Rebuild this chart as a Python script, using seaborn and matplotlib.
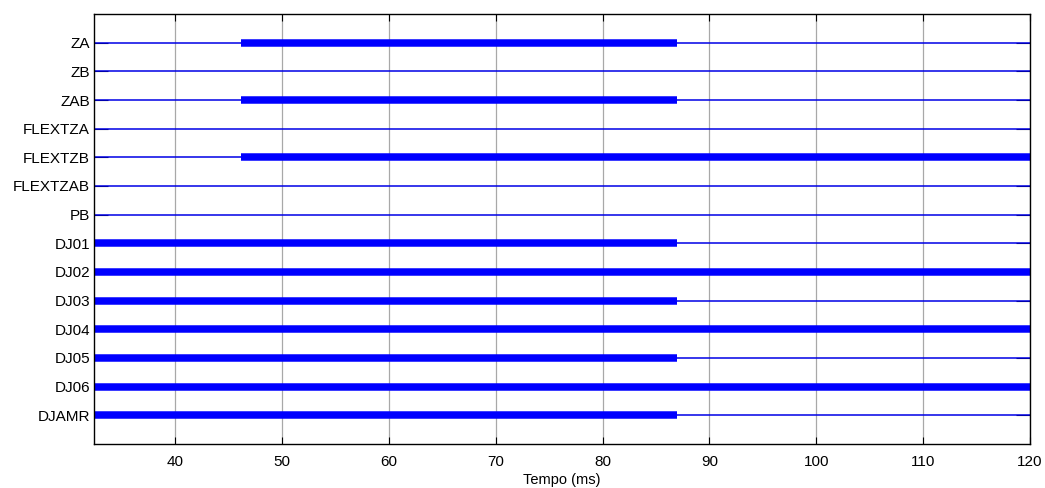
import pandas as pd
import matplotlib
matplotlib.use("Agg")
import matplotlib.pyplot as plt
import seaborn as sns

# sinais digitais (de cima para baixo)
sinais = ['ZA', 'ZB', 'ZAB', 'FLEXTZA', 'FLEXTZB', 'FLEXTZAB', 'PB',
          'DJ01', 'DJ02', 'DJ03', 'DJ04', 'DJ05', 'DJ06', 'DJAMR']
# intervalo em que o sinal esta ativo (ms); None = nunca ativo
inicio_ativo = [46.2, None, 46.2, None, 46.2, None, None,
                32.4, 32.4, 32.4, 32.4, 32.4, 32.4, 32.4]
fim_ativo = [87.0, None, 87.0, None, 120.0, None, None,
             87.0, 120.0, 87.0, 120.0, 87.0, 120.0, 87.0]
t_ini = 32.4
t_fim = 120.0
x_ticks = [40, 50, 60, 70, 80, 90, 100, 110, 120]

sns.set_style("white")
plt.rcParams['font.family'] = ['Liberation Sans', 'DejaVu Sans']

n = len(sinais)
nivel = {s: n - i for i, s in enumerate(sinais)}

# linha base (fina) de cada sinal
base = pd.DataFrame({
    'sinal': [s for s in sinais for _ in range(2)],
    't': [t for _ in sinais for t in (t_ini, t_fim)],
})
base['y'] = base['sinal'].map(nivel)

# trechos ativos (grossos)
rows = []
for s, a, b in zip(sinais, inicio_ativo, fim_ativo):
    if a is None:
        continue
    rows.append({'sinal': s, 't': a})
    rows.append({'sinal': s, 't': b})
ativo = pd.DataFrame(rows)
ativo['y'] = ativo['sinal'].map(nivel)

fig = plt.figure(figsize=(10.45, 4.88), dpi=100)
ax = fig.add_axes([0.09, 0.0902, 0.8956, 0.8811])

sns.lineplot(data=base, x='t', y='y', units='sinal', estimator=None,
             color=(0, 0, 0.9), lw=1.1, ax=ax, legend=False)
sns.lineplot(data=ativo, x='t', y='y', units='sinal', estimator=None,
             color=(0, 0, 1), lw=5.4, solid_capstyle='butt', ax=ax, legend=False)

ax.set_xlim(t_ini, t_fim)
ax.set_ylim(0, n + 1)
ax.set_xticks(x_ticks)
ax.set_xticklabels([str(v) for v in x_ticks], fontsize=11)
ax.set_yticks([nivel[s] for s in sinais])
ax.set_yticklabels(sinais, fontsize=11)
ax.set_xlabel('Tempo (ms)', fontsize=10.5, labelpad=3, color='black')
ax.set_ylabel('')

ax.set_axisbelow(True)
ax.grid(axis='x', color='#a8a8a8', lw=0.9)
ax.grid(axis='y', visible=False)
ax.tick_params(axis='x', direction='in', length=5, width=0.8, top=True,
               bottom=True, pad=8, colors='black')
ax.tick_params(axis='y', direction='in', length=10, width=0.8, left=True,
               right=True, pad=3, colors='black')
for sp in ax.spines.values():
    sp.set_color('black')
    sp.set_linewidth(1.0)

fig.savefig('out.png', dpi=100)
